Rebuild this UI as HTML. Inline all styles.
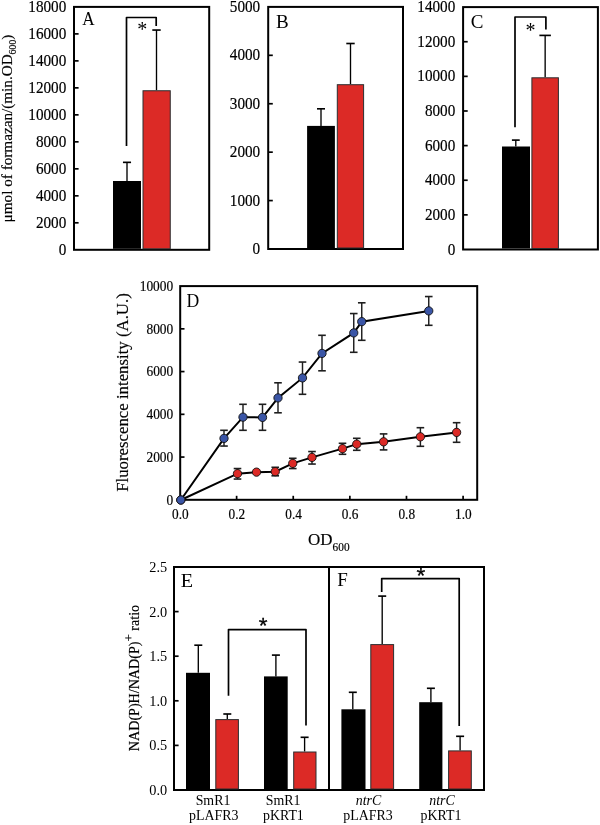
<!DOCTYPE html>
<html><head><meta charset="utf-8"><style>
html,body{margin:0;padding:0;background:#fff;width:600px;height:825px;overflow:hidden}
svg{display:block;will-change:transform}
text{fill:#000}
.b{stroke:#000;stroke-width:0.18px}
</style></head><body>
<svg width="600" height="825" viewBox="0 0 600 825" shape-rendering="auto">
<rect x="74" y="6.9" width="135.2" height="242.9" fill="none" stroke="#000" stroke-width="2"/>
<text class="b" transform="translate(66.3,254.8) scale(1,1.06)" font-size="15.2" text-anchor="end" font-family='"Liberation Serif", serif' >0</text>
<line x1="74" y1="222.81" x2="78.6" y2="222.81" stroke="#000" stroke-width="1.7"/>
<text class="b" transform="translate(66.3,227.81) scale(1,1.06)" font-size="15.2" text-anchor="end" font-family='"Liberation Serif", serif' >2000</text>
<line x1="74" y1="195.82" x2="78.6" y2="195.82" stroke="#000" stroke-width="1.7"/>
<text class="b" transform="translate(66.3,200.82) scale(1,1.06)" font-size="15.2" text-anchor="end" font-family='"Liberation Serif", serif' >4000</text>
<line x1="74" y1="168.83" x2="78.6" y2="168.83" stroke="#000" stroke-width="1.7"/>
<text class="b" transform="translate(66.3,173.83) scale(1,1.06)" font-size="15.2" text-anchor="end" font-family='"Liberation Serif", serif' >6000</text>
<line x1="74" y1="141.84" x2="78.6" y2="141.84" stroke="#000" stroke-width="1.7"/>
<text class="b" transform="translate(66.3,146.84) scale(1,1.06)" font-size="15.2" text-anchor="end" font-family='"Liberation Serif", serif' >8000</text>
<line x1="74" y1="114.86" x2="78.6" y2="114.86" stroke="#000" stroke-width="1.7"/>
<text class="b" transform="translate(66.3,119.86) scale(1,1.06)" font-size="15.2" text-anchor="end" font-family='"Liberation Serif", serif' >10000</text>
<line x1="74" y1="87.87" x2="78.6" y2="87.87" stroke="#000" stroke-width="1.7"/>
<text class="b" transform="translate(66.3,92.87) scale(1,1.06)" font-size="15.2" text-anchor="end" font-family='"Liberation Serif", serif' >12000</text>
<line x1="74" y1="60.88" x2="78.6" y2="60.88" stroke="#000" stroke-width="1.7"/>
<text class="b" transform="translate(66.3,65.88) scale(1,1.06)" font-size="15.2" text-anchor="end" font-family='"Liberation Serif", serif' >14000</text>
<line x1="74" y1="33.89" x2="78.6" y2="33.89" stroke="#000" stroke-width="1.7"/>
<text class="b" transform="translate(66.3,38.89) scale(1,1.06)" font-size="15.2" text-anchor="end" font-family='"Liberation Serif", serif' >16000</text>
<text class="b" transform="translate(66.3,11.9) scale(1,1.06)" font-size="15.2" text-anchor="end" font-family='"Liberation Serif", serif' >18000</text>
<line x1="127" y1="162.35" x2="127" y2="181.0" stroke="#000" stroke-width="1.35"/>
<line x1="122.95" y1="162.35" x2="131.05" y2="162.35" stroke="#000" stroke-width="1.65"/>
<rect x="113" y="181.0" width="28" height="67.8" fill="#000"/>
<line x1="156.5" y1="30.05" x2="156.5" y2="90.25" stroke="#000" stroke-width="1.35"/>
<line x1="152.3" y1="30.05" x2="160.7" y2="30.05" stroke="#000" stroke-width="1.65"/>
<rect x="143.0" y="90.75" width="27.25" height="158.05" fill="#dc2a26" stroke="#2b2f31" stroke-width="1"/>
<text transform="translate(82.3,25) scale(0.9,1)" font-size="19" font-family='"Liberation Serif", serif'>A</text>
<polyline points="126.5,146 126.5,17.5 156.2,17.5 156.2,26" fill="none" stroke="#000" stroke-width="1.7" stroke-linejoin="round"/>
<text x="142.3" y="36.1" font-size="20" text-anchor="middle" font-family='"Liberation Serif", serif' >*</text>
<rect x="268.2" y="6.9" width="134.8" height="242.1" fill="none" stroke="#000" stroke-width="2"/>
<text class="b" transform="translate(260.2,254.0) scale(1,1.06)" font-size="15.2" text-anchor="end" font-family='"Liberation Serif", serif' >0</text>
<line x1="268.2" y1="200.58" x2="272.8" y2="200.58" stroke="#000" stroke-width="1.7"/>
<text class="b" transform="translate(260.2,205.58) scale(1,1.06)" font-size="15.2" text-anchor="end" font-family='"Liberation Serif", serif' >1000</text>
<line x1="268.2" y1="152.16" x2="272.8" y2="152.16" stroke="#000" stroke-width="1.7"/>
<text class="b" transform="translate(260.2,157.16) scale(1,1.06)" font-size="15.2" text-anchor="end" font-family='"Liberation Serif", serif' >2000</text>
<line x1="268.2" y1="103.74" x2="272.8" y2="103.74" stroke="#000" stroke-width="1.7"/>
<text class="b" transform="translate(260.2,108.74) scale(1,1.06)" font-size="15.2" text-anchor="end" font-family='"Liberation Serif", serif' >3000</text>
<line x1="268.2" y1="55.32" x2="272.8" y2="55.32" stroke="#000" stroke-width="1.7"/>
<text class="b" transform="translate(260.2,60.32) scale(1,1.06)" font-size="15.2" text-anchor="end" font-family='"Liberation Serif", serif' >4000</text>
<text class="b" transform="translate(260.2,11.9) scale(1,1.06)" font-size="15.2" text-anchor="end" font-family='"Liberation Serif", serif' >5000</text>
<line x1="321" y1="108.8" x2="321" y2="125.9" stroke="#000" stroke-width="1.35"/>
<line x1="317.0" y1="108.8" x2="325.0" y2="108.8" stroke="#000" stroke-width="1.65"/>
<rect x="307.1" y="125.9" width="27.8" height="122.1" fill="#000"/>
<line x1="350.5" y1="43.5" x2="350.5" y2="84.2" stroke="#000" stroke-width="1.35"/>
<line x1="346.3" y1="43.5" x2="354.7" y2="43.5" stroke="#000" stroke-width="1.65"/>
<rect x="337.3" y="84.7" width="26.3" height="163.3" fill="#dc2a26" stroke="#2b2f31" stroke-width="1"/>
<text transform="translate(275.9,27.8) scale(1,1)" font-size="19" font-family='"Liberation Serif", serif'>B</text>
<rect x="463.1" y="7.1" width="134.8" height="242.4" fill="none" stroke="#000" stroke-width="2"/>
<text class="b" transform="translate(455.3,254.5) scale(1,1.06)" font-size="15.2" text-anchor="end" font-family='"Liberation Serif", serif' >0</text>
<line x1="463.1" y1="214.87" x2="467.7" y2="214.87" stroke="#000" stroke-width="1.7"/>
<text class="b" transform="translate(455.3,219.87) scale(1,1.06)" font-size="15.2" text-anchor="end" font-family='"Liberation Serif", serif' >2000</text>
<line x1="463.1" y1="180.24" x2="467.7" y2="180.24" stroke="#000" stroke-width="1.7"/>
<text class="b" transform="translate(455.3,185.24) scale(1,1.06)" font-size="15.2" text-anchor="end" font-family='"Liberation Serif", serif' >4000</text>
<line x1="463.1" y1="145.61" x2="467.7" y2="145.61" stroke="#000" stroke-width="1.7"/>
<text class="b" transform="translate(455.3,150.61) scale(1,1.06)" font-size="15.2" text-anchor="end" font-family='"Liberation Serif", serif' >6000</text>
<line x1="463.1" y1="110.99" x2="467.7" y2="110.99" stroke="#000" stroke-width="1.7"/>
<text class="b" transform="translate(455.3,115.99) scale(1,1.06)" font-size="15.2" text-anchor="end" font-family='"Liberation Serif", serif' >8000</text>
<line x1="463.1" y1="76.36" x2="467.7" y2="76.36" stroke="#000" stroke-width="1.7"/>
<text class="b" transform="translate(455.3,81.36) scale(1,1.06)" font-size="15.2" text-anchor="end" font-family='"Liberation Serif", serif' >10000</text>
<line x1="463.1" y1="41.73" x2="467.7" y2="41.73" stroke="#000" stroke-width="1.7"/>
<text class="b" transform="translate(455.3,46.73) scale(1,1.06)" font-size="15.2" text-anchor="end" font-family='"Liberation Serif", serif' >12000</text>
<text class="b" transform="translate(455.3,12.1) scale(1,1.06)" font-size="15.2" text-anchor="end" font-family='"Liberation Serif", serif' >14000</text>
<line x1="515.8" y1="140.1" x2="515.8" y2="146.5" stroke="#000" stroke-width="1.35"/>
<line x1="511.9" y1="140.1" x2="519.7" y2="140.1" stroke="#000" stroke-width="1.65"/>
<rect x="502" y="146.5" width="28" height="102.0" fill="#000"/>
<line x1="545.15" y1="35.4" x2="545.15" y2="77.3" stroke="#000" stroke-width="1.35"/>
<line x1="539.4" y1="35.4" x2="550.9" y2="35.4" stroke="#000" stroke-width="1.65"/>
<rect x="531.9" y="77.8" width="26.5" height="170.7" fill="#dc2a26" stroke="#2b2f31" stroke-width="1"/>
<text transform="translate(470.8,27.8) scale(1,1)" font-size="19" font-family='"Liberation Serif", serif'>C</text>
<polyline points="515,127.3 515,17 545.9,17 545.9,29.6" fill="none" stroke="#000" stroke-width="1.7" stroke-linejoin="round"/>
<text x="530.5" y="37.1" font-size="20" text-anchor="middle" font-family='"Liberation Serif", serif' >*</text>
<text class="b" transform="translate(12.2,128.5) rotate(-90)" font-size="15.2" text-anchor="middle" font-family='"Liberation Serif", serif'>&#956;mol of formazan/(min.OD<tspan font-size="9.8" dy="4">600</tspan><tspan dy="-4">)</tspan></text>
<rect x="180.2" y="286.1" width="297.0" height="213.7" fill="none" stroke="#000" stroke-width="2"/>
<text class="b" transform="translate(173.2,504.5) scale(1,1.07)" font-size="13.4" text-anchor="end" font-family='"Liberation Serif", serif' >0</text>
<line x1="180.2" y1="457.06" x2="184.5" y2="457.06" stroke="#000" stroke-width="1.7"/>
<text class="b" transform="translate(173.2,461.76) scale(1,1.07)" font-size="13.4" text-anchor="end" font-family='"Liberation Serif", serif' >2000</text>
<line x1="180.2" y1="414.32" x2="184.5" y2="414.32" stroke="#000" stroke-width="1.7"/>
<text class="b" transform="translate(173.2,419.02) scale(1,1.07)" font-size="13.4" text-anchor="end" font-family='"Liberation Serif", serif' >4000</text>
<line x1="180.2" y1="371.58" x2="184.5" y2="371.58" stroke="#000" stroke-width="1.7"/>
<text class="b" transform="translate(173.2,376.28) scale(1,1.07)" font-size="13.4" text-anchor="end" font-family='"Liberation Serif", serif' >6000</text>
<line x1="180.2" y1="328.84" x2="184.5" y2="328.84" stroke="#000" stroke-width="1.7"/>
<text class="b" transform="translate(173.2,333.54) scale(1,1.07)" font-size="13.4" text-anchor="end" font-family='"Liberation Serif", serif' >8000</text>
<text class="b" transform="translate(173.2,290.8) scale(1,1.07)" font-size="13.4" text-anchor="end" font-family='"Liberation Serif", serif' >10000</text>
<text class="b" transform="translate(180.3,518.7) scale(1,1.04)" font-size="13.3" text-anchor="middle" font-family='"Liberation Serif", serif' >0.0</text>
<line x1="236.62" y1="499.8" x2="236.62" y2="495.8" stroke="#000" stroke-width="1.7"/>
<text class="b" transform="translate(236.92,518.7) scale(1,1.04)" font-size="13.3" text-anchor="middle" font-family='"Liberation Serif", serif' >0.2</text>
<line x1="293.24" y1="499.8" x2="293.24" y2="495.8" stroke="#000" stroke-width="1.7"/>
<text class="b" transform="translate(293.54,518.7) scale(1,1.04)" font-size="13.3" text-anchor="middle" font-family='"Liberation Serif", serif' >0.4</text>
<line x1="349.86" y1="499.8" x2="349.86" y2="495.8" stroke="#000" stroke-width="1.7"/>
<text class="b" transform="translate(350.16,518.7) scale(1,1.04)" font-size="13.3" text-anchor="middle" font-family='"Liberation Serif", serif' >0.6</text>
<line x1="406.48" y1="499.8" x2="406.48" y2="495.8" stroke="#000" stroke-width="1.7"/>
<text class="b" transform="translate(406.78,518.7) scale(1,1.04)" font-size="13.3" text-anchor="middle" font-family='"Liberation Serif", serif' >0.8</text>
<line x1="463.1" y1="499.8" x2="463.1" y2="495.8" stroke="#000" stroke-width="1.7"/>
<text class="b" transform="translate(463.4,518.7) scale(1,1.04)" font-size="13.3" text-anchor="middle" font-family='"Liberation Serif", serif' >1.0</text>
<text transform="translate(186.6,306.7) scale(0.93,1)" font-size="19" font-family='"Liberation Serif", serif'>D</text>
<text class="b" transform="translate(128.2,392.5) rotate(-90)" font-size="16.8" text-anchor="middle" font-family='"Liberation Serif", serif'>Fluorescence intensity (A.U.)</text>
<text class="b" transform="translate(307.9,545.3) scale(1,1.01)" font-size="17.0" text-anchor="start" font-family='"Liberation Serif", serif' >OD</text>
<text class="b" transform="translate(332.6,550.7) scale(1,1.1)" font-size="11.3" text-anchor="start" font-family='"Liberation Serif", serif' >600</text>
<polyline points="180.8,500.0 237.5,473.65 256.5,472.15 275.25,471.65 292.75,463.4 312,457.4 342.5,448.65 356.75,444.15 383.6,441.8 420.4,436.8 456.6,432.4" fill="none" stroke="#000" stroke-width="2"/>
<line x1="237.5" y1="468.55" x2="237.5" y2="479.05" stroke="#1e1e1e" stroke-width="1.45"/>
<line x1="233.7" y1="468.55" x2="241.3" y2="468.55" stroke="#1e1e1e" stroke-width="1.6"/>
<line x1="233.7" y1="479.05" x2="241.3" y2="479.05" stroke="#1e1e1e" stroke-width="1.6"/>
<line x1="275.25" y1="467.3" x2="275.25" y2="475.8" stroke="#1e1e1e" stroke-width="1.45"/>
<line x1="271.45" y1="467.3" x2="279.05" y2="467.3" stroke="#1e1e1e" stroke-width="1.6"/>
<line x1="271.45" y1="475.8" x2="279.05" y2="475.8" stroke="#1e1e1e" stroke-width="1.6"/>
<line x1="292.75" y1="458.3" x2="292.75" y2="468.55" stroke="#1e1e1e" stroke-width="1.45"/>
<line x1="288.95" y1="458.3" x2="296.55" y2="458.3" stroke="#1e1e1e" stroke-width="1.6"/>
<line x1="288.95" y1="468.55" x2="296.55" y2="468.55" stroke="#1e1e1e" stroke-width="1.6"/>
<line x1="312" y1="451.55" x2="312" y2="464.05" stroke="#1e1e1e" stroke-width="1.45"/>
<line x1="308.2" y1="451.55" x2="315.8" y2="451.55" stroke="#1e1e1e" stroke-width="1.6"/>
<line x1="308.2" y1="464.05" x2="315.8" y2="464.05" stroke="#1e1e1e" stroke-width="1.6"/>
<line x1="342.5" y1="443.3" x2="342.5" y2="454.3" stroke="#1e1e1e" stroke-width="1.45"/>
<line x1="338.7" y1="443.3" x2="346.3" y2="443.3" stroke="#1e1e1e" stroke-width="1.6"/>
<line x1="338.7" y1="454.3" x2="346.3" y2="454.3" stroke="#1e1e1e" stroke-width="1.6"/>
<line x1="356.75" y1="438.3" x2="356.75" y2="450.3" stroke="#1e1e1e" stroke-width="1.45"/>
<line x1="352.95" y1="438.3" x2="360.55" y2="438.3" stroke="#1e1e1e" stroke-width="1.6"/>
<line x1="352.95" y1="450.3" x2="360.55" y2="450.3" stroke="#1e1e1e" stroke-width="1.6"/>
<line x1="383.6" y1="433.9" x2="383.6" y2="449.9" stroke="#1e1e1e" stroke-width="1.45"/>
<line x1="379.8" y1="433.9" x2="387.4" y2="433.9" stroke="#1e1e1e" stroke-width="1.6"/>
<line x1="379.8" y1="449.9" x2="387.4" y2="449.9" stroke="#1e1e1e" stroke-width="1.6"/>
<line x1="420.4" y1="427.7" x2="420.4" y2="446.3" stroke="#1e1e1e" stroke-width="1.45"/>
<line x1="416.6" y1="427.7" x2="424.2" y2="427.7" stroke="#1e1e1e" stroke-width="1.6"/>
<line x1="416.6" y1="446.3" x2="424.2" y2="446.3" stroke="#1e1e1e" stroke-width="1.6"/>
<line x1="456.6" y1="422.7" x2="456.6" y2="442.3" stroke="#1e1e1e" stroke-width="1.45"/>
<line x1="452.8" y1="422.7" x2="460.4" y2="422.7" stroke="#1e1e1e" stroke-width="1.6"/>
<line x1="452.8" y1="442.3" x2="460.4" y2="442.3" stroke="#1e1e1e" stroke-width="1.6"/>
<circle cx="180.8" cy="500.0" r="4.15" fill="#dc2a26" stroke="#111" stroke-width="0.9"/>
<circle cx="237.5" cy="473.65" r="4.15" fill="#dc2a26" stroke="#111" stroke-width="0.9"/>
<circle cx="256.5" cy="472.15" r="4.15" fill="#dc2a26" stroke="#111" stroke-width="0.9"/>
<circle cx="275.25" cy="471.65" r="4.15" fill="#dc2a26" stroke="#111" stroke-width="0.9"/>
<circle cx="292.75" cy="463.4" r="4.15" fill="#dc2a26" stroke="#111" stroke-width="0.9"/>
<circle cx="312" cy="457.4" r="4.15" fill="#dc2a26" stroke="#111" stroke-width="0.9"/>
<circle cx="342.5" cy="448.65" r="4.15" fill="#dc2a26" stroke="#111" stroke-width="0.9"/>
<circle cx="356.75" cy="444.15" r="4.15" fill="#dc2a26" stroke="#111" stroke-width="0.9"/>
<circle cx="383.6" cy="441.8" r="4.15" fill="#dc2a26" stroke="#111" stroke-width="0.9"/>
<circle cx="420.4" cy="436.8" r="4.15" fill="#dc2a26" stroke="#111" stroke-width="0.9"/>
<circle cx="456.6" cy="432.4" r="4.15" fill="#dc2a26" stroke="#111" stroke-width="0.9"/>
<polyline points="180.8,500.0 224,438.4 243,417.15 262.5,417.4 278,397.9 302.5,377.9 322,353.4 353.75,332.9 361.75,321.65 428.75,310.9" fill="none" stroke="#000" stroke-width="2"/>
<line x1="224" y1="430.3" x2="224" y2="446.05" stroke="#1e1e1e" stroke-width="1.45"/>
<line x1="220.2" y1="430.3" x2="227.8" y2="430.3" stroke="#1e1e1e" stroke-width="1.6"/>
<line x1="220.2" y1="446.05" x2="227.8" y2="446.05" stroke="#1e1e1e" stroke-width="1.6"/>
<line x1="243" y1="404.3" x2="243" y2="430.3" stroke="#1e1e1e" stroke-width="1.45"/>
<line x1="239.2" y1="404.3" x2="246.8" y2="404.3" stroke="#1e1e1e" stroke-width="1.6"/>
<line x1="239.2" y1="430.3" x2="246.8" y2="430.3" stroke="#1e1e1e" stroke-width="1.6"/>
<line x1="262.5" y1="404.3" x2="262.5" y2="430.3" stroke="#1e1e1e" stroke-width="1.45"/>
<line x1="258.7" y1="404.3" x2="266.3" y2="404.3" stroke="#1e1e1e" stroke-width="1.6"/>
<line x1="258.7" y1="430.3" x2="266.3" y2="430.3" stroke="#1e1e1e" stroke-width="1.6"/>
<line x1="278" y1="382.8" x2="278" y2="412.8" stroke="#1e1e1e" stroke-width="1.45"/>
<line x1="274.2" y1="382.8" x2="281.8" y2="382.8" stroke="#1e1e1e" stroke-width="1.6"/>
<line x1="274.2" y1="412.8" x2="281.8" y2="412.8" stroke="#1e1e1e" stroke-width="1.6"/>
<line x1="302.5" y1="362.05" x2="302.5" y2="394.3" stroke="#1e1e1e" stroke-width="1.45"/>
<line x1="298.7" y1="362.05" x2="306.3" y2="362.05" stroke="#1e1e1e" stroke-width="1.6"/>
<line x1="298.7" y1="394.3" x2="306.3" y2="394.3" stroke="#1e1e1e" stroke-width="1.6"/>
<line x1="322" y1="335.3" x2="322" y2="370.8" stroke="#1e1e1e" stroke-width="1.45"/>
<line x1="318.2" y1="335.3" x2="325.8" y2="335.3" stroke="#1e1e1e" stroke-width="1.6"/>
<line x1="318.2" y1="370.8" x2="325.8" y2="370.8" stroke="#1e1e1e" stroke-width="1.6"/>
<line x1="353.75" y1="313.55" x2="353.75" y2="352.3" stroke="#1e1e1e" stroke-width="1.45"/>
<line x1="349.95" y1="313.55" x2="357.55" y2="313.55" stroke="#1e1e1e" stroke-width="1.6"/>
<line x1="349.95" y1="352.3" x2="357.55" y2="352.3" stroke="#1e1e1e" stroke-width="1.6"/>
<line x1="361.75" y1="302.8" x2="361.75" y2="340.3" stroke="#1e1e1e" stroke-width="1.45"/>
<line x1="357.95" y1="302.8" x2="365.55" y2="302.8" stroke="#1e1e1e" stroke-width="1.6"/>
<line x1="357.95" y1="340.3" x2="365.55" y2="340.3" stroke="#1e1e1e" stroke-width="1.6"/>
<line x1="428.75" y1="296.55" x2="428.75" y2="325.3" stroke="#1e1e1e" stroke-width="1.45"/>
<line x1="424.95" y1="296.55" x2="432.55" y2="296.55" stroke="#1e1e1e" stroke-width="1.6"/>
<line x1="424.95" y1="325.3" x2="432.55" y2="325.3" stroke="#1e1e1e" stroke-width="1.6"/>
<circle cx="180.8" cy="500.0" r="4.15" fill="#3a55a6" stroke="#111" stroke-width="0.9"/>
<circle cx="224" cy="438.4" r="4.15" fill="#3a55a6" stroke="#111" stroke-width="0.9"/>
<circle cx="243" cy="417.15" r="4.15" fill="#3a55a6" stroke="#111" stroke-width="0.9"/>
<circle cx="262.5" cy="417.4" r="4.15" fill="#3a55a6" stroke="#111" stroke-width="0.9"/>
<circle cx="278" cy="397.9" r="4.15" fill="#3a55a6" stroke="#111" stroke-width="0.9"/>
<circle cx="302.5" cy="377.9" r="4.15" fill="#3a55a6" stroke="#111" stroke-width="0.9"/>
<circle cx="322" cy="353.4" r="4.15" fill="#3a55a6" stroke="#111" stroke-width="0.9"/>
<circle cx="353.75" cy="332.9" r="4.15" fill="#3a55a6" stroke="#111" stroke-width="0.9"/>
<circle cx="361.75" cy="321.65" r="4.15" fill="#3a55a6" stroke="#111" stroke-width="0.9"/>
<circle cx="428.75" cy="310.9" r="4.15" fill="#3a55a6" stroke="#111" stroke-width="0.9"/>
<rect x="174" y="567" width="310" height="223" fill="none" stroke="#000" stroke-width="2"/>
<line x1="329" y1="567" x2="329" y2="790" stroke="#000" stroke-width="2"/>
<text x="167.2" y="794.9" font-size="14.3" text-anchor="end" font-family='"Liberation Serif", serif' >0.0</text>
<line x1="174" y1="745.4" x2="178.6" y2="745.4" stroke="#000" stroke-width="1.7"/>
<text x="167.2" y="750.3" font-size="14.3" text-anchor="end" font-family='"Liberation Serif", serif' >0.5</text>
<line x1="174" y1="700.8" x2="178.6" y2="700.8" stroke="#000" stroke-width="1.7"/>
<text x="167.2" y="705.7" font-size="14.3" text-anchor="end" font-family='"Liberation Serif", serif' >1.0</text>
<line x1="174" y1="656.2" x2="178.6" y2="656.2" stroke="#000" stroke-width="1.7"/>
<text x="167.2" y="661.1" font-size="14.3" text-anchor="end" font-family='"Liberation Serif", serif' >1.5</text>
<line x1="174" y1="611.6" x2="178.6" y2="611.6" stroke="#000" stroke-width="1.7"/>
<text x="167.2" y="616.5" font-size="14.3" text-anchor="end" font-family='"Liberation Serif", serif' >2.0</text>
<text x="167.2" y="571.9" font-size="14.3" text-anchor="end" font-family='"Liberation Serif", serif' >2.5</text>
<line x1="198.3" y1="645.2" x2="198.3" y2="672.8" stroke="#000" stroke-width="1.35"/>
<line x1="194.3" y1="645.2" x2="202.3" y2="645.2" stroke="#000" stroke-width="1.65"/>
<rect x="186" y="672.8" width="24" height="116.2" fill="#000"/>
<line x1="227.3" y1="714" x2="227.3" y2="719.1" stroke="#000" stroke-width="1.35"/>
<line x1="223.3" y1="714" x2="231.3" y2="714" stroke="#000" stroke-width="1.65"/>
<rect x="215.8" y="719.6" width="22.6" height="69.4" fill="#dc2a26" stroke="#2b2f31" stroke-width="1"/>
<line x1="275.9" y1="655.1" x2="275.9" y2="676.4" stroke="#000" stroke-width="1.35"/>
<line x1="271.9" y1="655.1" x2="279.9" y2="655.1" stroke="#000" stroke-width="1.65"/>
<rect x="264" y="676.4" width="23.7" height="112.6" fill="#000"/>
<line x1="304.6" y1="737.3" x2="304.6" y2="751.5" stroke="#000" stroke-width="1.35"/>
<line x1="300.6" y1="737.3" x2="308.6" y2="737.3" stroke="#000" stroke-width="1.65"/>
<rect x="293.7" y="752.0" width="22.3" height="37.0" fill="#dc2a26" stroke="#2b2f31" stroke-width="1"/>
<line x1="352.8" y1="692.3" x2="352.8" y2="709.3" stroke="#000" stroke-width="1.35"/>
<line x1="348.8" y1="692.3" x2="356.8" y2="692.3" stroke="#000" stroke-width="1.65"/>
<rect x="341.4" y="709.3" width="24.1" height="79.7" fill="#000"/>
<line x1="382.2" y1="596.1" x2="382.2" y2="644.1" stroke="#000" stroke-width="1.35"/>
<line x1="378.2" y1="596.1" x2="386.2" y2="596.1" stroke="#000" stroke-width="1.65"/>
<rect x="370.8" y="644.6" width="22.8" height="144.4" fill="#dc2a26" stroke="#2b2f31" stroke-width="1"/>
<line x1="430.9" y1="688.3" x2="430.9" y2="702.2" stroke="#000" stroke-width="1.35"/>
<line x1="426.9" y1="688.3" x2="434.9" y2="688.3" stroke="#000" stroke-width="1.65"/>
<rect x="419.2" y="702.2" width="23.2" height="86.8" fill="#000"/>
<line x1="460.1" y1="736.3" x2="460.1" y2="750.4" stroke="#000" stroke-width="1.35"/>
<line x1="456.1" y1="736.3" x2="464.1" y2="736.3" stroke="#000" stroke-width="1.65"/>
<rect x="448.6" y="750.9" width="22.7" height="38.1" fill="#dc2a26" stroke="#2b2f31" stroke-width="1"/>
<polyline points="228.5,695.8 228.5,629.6 306,629.6 306,725.5" fill="none" stroke="#000" stroke-width="1.7" stroke-linejoin="round"/>
<polyline points="381.7,591.9 381.7,578.6 459.2,578.6 459.2,725.9" fill="none" stroke="#000" stroke-width="1.7" stroke-linejoin="round"/>
<text x="263.2" y="632.9" font-size="22.5" text-anchor="middle" font-family='"Liberation Sans", sans-serif' stroke="#000" stroke-width="0.3">*</text>
<text x="420.8" y="583.3" font-size="22.5" text-anchor="middle" font-family='"Liberation Sans", sans-serif' stroke="#000" stroke-width="0.3">*</text>
<text transform="translate(180.8,586.7) scale(1.06,1)" font-size="19" font-family='"Liberation Serif", serif'>E</text>
<text x="337.3" y="586.3" font-size="19" text-anchor="start" font-family='"Liberation Serif", serif' >F</text>
<text class="b" transform="translate(138.6,678) rotate(-90)" font-size="14.1" text-anchor="middle" font-family='"Liberation Serif", serif'>NAD(P)H/NAD(P)<tspan font-size="13" dy="-5.5">+</tspan><tspan dy="5.5"> ratio</tspan></text>
<text x="213.0" y="805.1" font-size="13.9" text-anchor="middle" font-family='"Liberation Serif", serif' >SmR1</text>
<text x="213.8" y="819.8" font-size="13.9" text-anchor="middle" font-family='"Liberation Serif", serif' >pLAFR3</text>
<text x="283.2" y="805.1" font-size="13.9" text-anchor="middle" font-family='"Liberation Serif", serif' >SmR1</text>
<text x="283.4" y="819.8" font-size="13.9" text-anchor="middle" font-family='"Liberation Serif", serif' >pKRT1</text>
<text x="368.5" y="805.1" font-size="13.9" text-anchor="middle" font-family='"Liberation Serif", serif' font-style="italic">ntrC</text>
<text x="368" y="819.8" font-size="13.9" text-anchor="middle" font-family='"Liberation Serif", serif' >pLAFR3</text>
<text x="442" y="805.1" font-size="13.9" text-anchor="middle" font-family='"Liberation Serif", serif' font-style="italic">ntrC</text>
<text x="441" y="819.8" font-size="13.9" text-anchor="middle" font-family='"Liberation Serif", serif' >pKRT1</text>
</svg>
</body></html>
